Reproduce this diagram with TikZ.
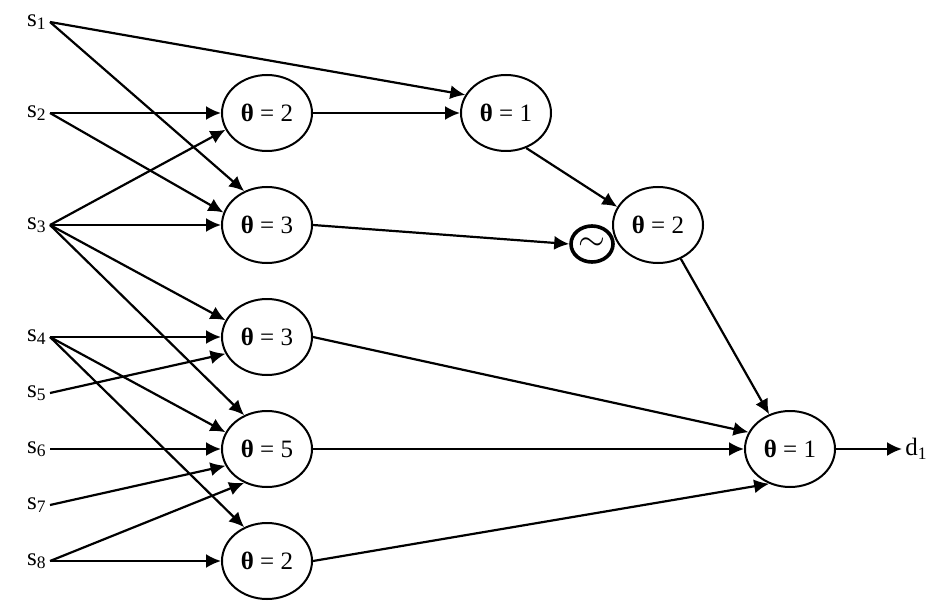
\documentclass[tikz,border=0pt]{standalone}
\usepackage{fontspec}
\setmainfont{Liberation Serif}
\usetikzlibrary{arrows.meta,positioning,shapes.geometric}
\tikzset{
    ellwht/.style={ellipse,draw,minimum width=45pt,minimum height=38pt,inner sep=0pt,line width=1pt,fill=white},
    srclbl/.style={anchor=east,inner sep=1.5pt},
    outlbl/.style={anchor=west,inner sep=1.5pt},
    cirtld/.style={ellipse,draw,minimum width=21pt,minimum height=18pt,inner sep=0pt,line width=1.8pt,fill=white,font=\fontsize{17}{18}\selectfont},
    arrowfwd/.style={-{Latex[length=7.5pt,width=7pt]},line width=1.1pt}
}

\begin{document}
\begin{tikzpicture}[x=0.5pt,y=-0.5pt,font=\fontsize{12.5}{14}\selectfont]
        \useasboundingbox (0,0) rectangle (935,609);
        % Inputs
        \node[srclbl] (s1) at (50,22) {s\textsubscript{1}};
        \node[srclbl] (s2) at (50,113) {s\textsubscript{2}};
        \node[srclbl] (s3) at (50,225) {s\textsubscript{3}};
        \node[srclbl] (s4) at (50,337) {s\textsubscript{4}};
        \node[srclbl] (s5) at (50,393) {s\textsubscript{5}};
        \node[srclbl] (s6) at (50,449) {s\textsubscript{6}};
        \node[srclbl] (s7) at (50,505) {s\textsubscript{7}};
        \node[srclbl] (s8) at (50,561) {s\textsubscript{8}};

        % First layer
        \node[ellwht] (a1) at (267,113) {\textbf{θ} = 2};
        \node[ellwht] (b1) at (267,225) {\textbf{θ} = 3};
        \node[ellwht] (c1) at (267,337) {\textbf{θ} = 3};
        \node[ellwht] (d1) at (267,449) {\textbf{θ} = 5};
        \node[ellwht] (e1) at (267,561) {\textbf{θ} = 2};

        % Second layer and output
        \node[ellwht] (a2) at (506,113) {\textbf{θ} = 1};
        \node[ellwht] (b2) at (658,225) {\textbf{θ} = 2};
        \node[cirtld] (tld) at (592,244) {$\sim$};
        \node[ellwht] (out) at (790,449) {\textbf{θ} = 1};
        \node[outlbl] (dout) at (902,449) {d\textsubscript{1}};

        % Input connections
        \draw[arrowfwd] (s1.east) -- (a2.156);
        \draw[arrowfwd] (s1.east) -- (b1.124);
        \draw[arrowfwd] (s2.east) -- (a1.180);
        \draw[arrowfwd] (s2.east) -- (b1.164);
        \draw[arrowfwd] (s3.east) -- (a1.202);
        \draw[arrowfwd] (s3.east) -- (b1.180);
        \draw[arrowfwd] (s3.east) -- (c1.158);
        \draw[arrowfwd] (s3.east) -- (d1.124);
        \draw[arrowfwd] (s4.east) -- (c1.180);
        \draw[arrowfwd] (s4.east) -- (d1.158);
        \draw[arrowfwd] (s4.east) -- (e1.124);
        \draw[arrowfwd] (s5.east) -- (c1.202);
        \draw[arrowfwd] (s6.east) -- (d1.180);
        \draw[arrowfwd] (s7.east) -- (d1.202);
        \draw[arrowfwd] (s8.east) -- (d1.236);
        \draw[arrowfwd] (s8.east) -- (e1.180);

        % Hidden connections
        \draw[arrowfwd] (a1.0) -- (a2.180);
        \draw[arrowfwd] (b1.0) -- (tld.west);
        \draw[arrowfwd] (a2.300) -- (b2.156);
        \draw[arrowfwd] (b2.304) -- (out.121);
        \draw[arrowfwd] (c1.0) -- (out.158);
        \draw[arrowfwd] (d1.0) -- (out.180);
        \draw[arrowfwd] (e1.0) -- (out.239);
        \draw[arrowfwd] (out.0) -- (dout.west);
    \end{tikzpicture}
\end{document}
